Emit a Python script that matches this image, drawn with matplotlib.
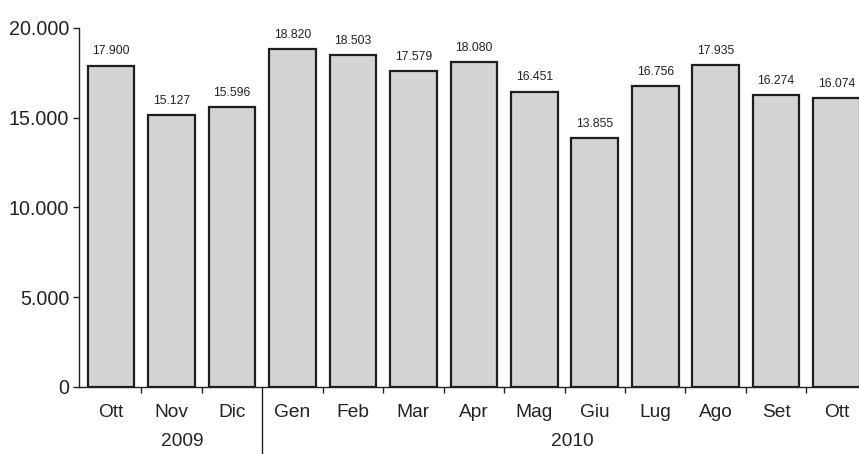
import matplotlib
matplotlib.use("Agg")
import matplotlib.pyplot as plt
from matplotlib.ticker import FuncFormatter, FixedLocator

# Monthly values, Oct 2009 - Oct 2010
months = ["Ott", "Nov", "Dic", "Gen", "Feb", "Mar", "Apr", "Mag", "Giu",
          "Lug", "Ago", "Set", "Ott"]
values = [17900, 15127, 15596, 18820, 18503, 17579, 18080, 16451, 13855,
          16756, 17935, 16274, 16074]
years = ["2009", "2010"]
year_pos = [1.175, 7.63]
y_ticks = [0, 5000, 10000, 15000, 20000]

plt.rcParams["font.family"] = ["Liberation Sans", "DejaVu Sans"]
text_color = "#222222"

fig = plt.figure(figsize=(8.59, 4.54), dpi=100)
ax = fig.add_axes([79 / 859, 67 / 454, 1 - 79 / 859, (387 - 28) / 454])

x = list(range(len(values)))
ax.bar(x, values, width=0.77, color="#d3d4d6", edgecolor="#1e1e1e",
       linewidth=1.6, zorder=2, clip_on=True)


def it_fmt(v):
    return f"{int(round(v)):,}".replace(",", ".")


for xi, v in zip(x, values):
    ax.annotate(it_fmt(v), (xi, v), xytext=(0, 6), textcoords="offset points",
                ha="center", va="bottom", fontsize=8.8, color=text_color)

ax.set_xlim(-0.53, 12.37)
ax.set_ylim(0, 20000)

ax.yaxis.set_major_locator(FixedLocator(y_ticks))
ax.yaxis.set_major_formatter(FuncFormatter(lambda v, p: it_fmt(v)))
ax.tick_params(axis="y", labelsize=14.2, colors=text_color, length=4,
               width=1, pad=3)

# month names centred under bars, short ticks between bars
ax.set_xticks(x)
ax.set_xticklabels(months)
ax.tick_params(axis="x", which="major", length=0, labelsize=13.8,
               colors=text_color, pad=12)
between = [i + 0.5 for i in range(len(values) - 1) if i != 2]
ax.set_xticks(between, minor=True)
ax.tick_params(axis="x", which="minor", length=4, width=1, color=text_color)

for side in ("top", "right"):
    ax.spines[side].set_visible(False)
ax.spines["left"].set_color(text_color)
ax.spines["bottom"].set_color(text_color)
ax.spines["left"].set_linewidth(1)
ax.spines["bottom"].set_linewidth(1)

# year separator between Dic and Gen
ax.plot([2.5, 2.5], [0, -0.19], transform=ax.get_xaxis_transform(),
        color=text_color, linewidth=1, clip_on=False)

for lbl, pos in zip(years, year_pos):
    ax.text(pos, -0.151, lbl, transform=ax.get_xaxis_transform(),
            ha="center", va="center", fontsize=13.8, color=text_color)

fig.savefig("out.png", dpi=100)
